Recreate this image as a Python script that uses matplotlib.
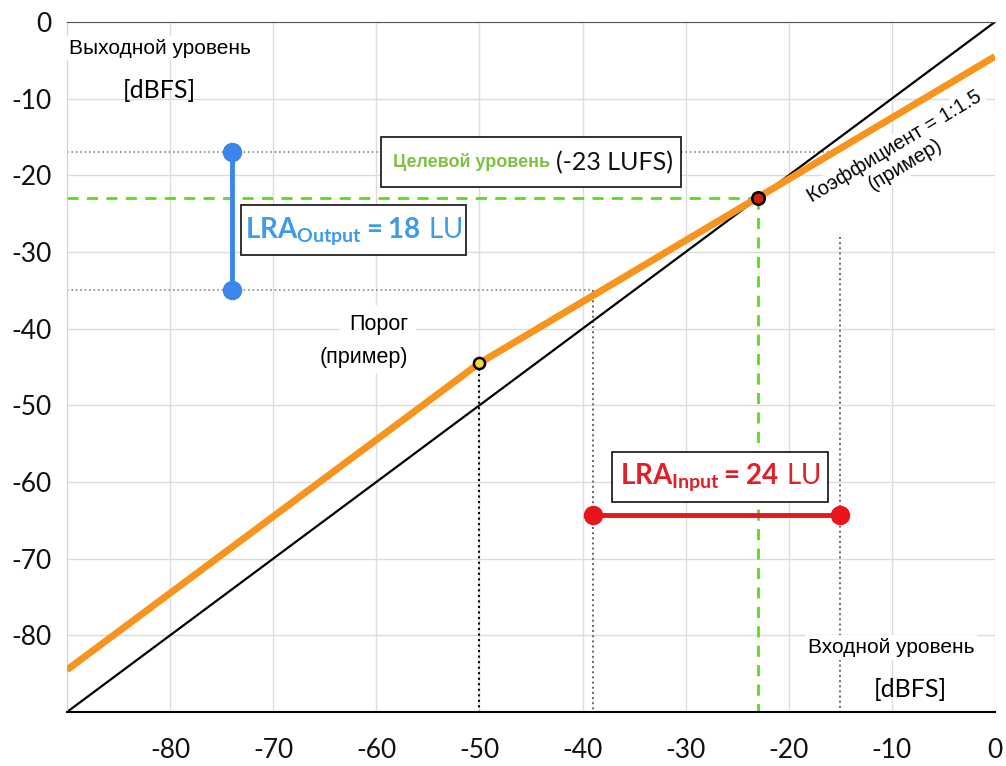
import matplotlib.pyplot as plt
import numpy as np
from matplotlib.patches import Rectangle

plt.rcParams['mathtext.fontset'] = 'custom'
plt.rcParams['mathtext.rm'] = 'Lato'
plt.rcParams['mathtext.bf'] = 'Lato:bold'

# levels in dBFS
x_in = [-90, -50, 0]
y_out = [-84.5, -44.5, -4.5]
threshold = (-50, -44.5)
target = (-23, -23)
lra_in = [-39, -15]
lra_in_y = -64.3
lra_out = [-17, -35]
lra_out_x = -74

ticks = np.arange(-80, 1, 10)
tick_labels = ['-80', '-70', '-60', '-50', '-40', '-30', '-20', '-10', '0']

fig = plt.figure(figsize=(10.06, 7.66), dpi=100)
ax = fig.add_axes([0.0666, 0.0705, 0.9224, 0.9008])
ax.set_xlim(-90, 0)
ax.set_ylim(-90, 0)

ax.set_xticks(ticks)
ax.set_xticklabels(tick_labels)
ax.set_yticks(ticks)
ax.set_yticklabels(tick_labels)
ax.tick_params(length=0, labelsize=19, labelcolor='#111111')
ax.tick_params(axis='x', pad=19)
ax.tick_params(axis='y', pad=11)
for lab in ax.get_xticklabels() + ax.get_yticklabels():
    lab.set_family('Lato')
ax.grid(True, color='#dcdcdc', lw=1)
ax.set_axisbelow(True)
ax.spines['right'].set_visible(False)
ax.spines['left'].set_color('#cfcfcf')
ax.spines['top'].set_color('#555555')
ax.spines['bottom'].set_color('black')
ax.spines['bottom'].set_linewidth(1.5)

sans = 'Liberation Sans'

# helper lines
ax.plot([-90, -15], [lra_out[0], lra_out[0]], ls=':', color='#888888', lw=1.2)
ax.plot([-90, lra_in[0]], [lra_out[1], lra_out[1]], ls=':', color='#888888', lw=1.2)
ax.plot([lra_in[0], lra_in[0]], [lra_out[1], -90], ls=':', color='#666666', lw=1.4)
ax.plot([lra_in[1], lra_in[1]], [-28, -90], ls=':', color='#666666', lw=1.4)
ax.plot([threshold[0], threshold[0]], [threshold[1], -90], ls=':', color='black', lw=1.5)
ax.plot([-90, target[0]], [target[1], target[1]], ls=(0, (4, 3)), color='#55dd22', lw=2)
ax.plot([target[0], target[0]], [target[1], -90], ls=(0, (4, 3)), color='#55dd22', lw=2)

# 1:1 reference and compressor curve
ax.plot([-90, 0], [-90, 0], color='black', lw=1.6)
ax.plot(x_in, y_out, color='#f7941d', lw=5, solid_capstyle='butt', zorder=4)
ax.plot(*threshold, 'o', ms=8, mfc='#f4d83a', mec='black', mew=1.8, zorder=5)
ax.plot(*target, 'o', ms=9, mfc='#d0210f', mec='black', mew=1.8, zorder=5)

# LRA bars
ax.plot([lra_out_x, lra_out_x], lra_out, color='#3a86ea', lw=3.5, marker='o', ms=13, zorder=4)
ax.plot(lra_in, [lra_in_y, lra_in_y], color='#e8161c', lw=3.5, marker='o', ms=13, zorder=4)

# annotation boxes
ax.add_patch(Rectangle((-59.5, -21.5), 29.1, 6.5, fc='white', ec='#222222', lw=1.3, zorder=6))
ax.text(-58.4, -18.3, 'Целевой уровень', color='#7dc242', fontsize=13, fontweight='bold',
        family=sans, ha='left', va='center', zorder=7)
ax.text(-31.2, -18.3, '(-23 LUFS)', color='#111111', fontsize=18, family='Lato',
        ha='right', va='center', zorder=7)

ax.add_patch(Rectangle((-73.1, -30.4), 21.8, 6.5, fc='white', ec='#222222', lw=1.3, zorder=6))
ax.text(-62.2, -27.3, r'$\mathbf{LRA_{Output} = 18}\ \mathrm{LU}$', color='#3d9be9',
        fontsize=20, ha='center', va='center', zorder=7)

ax.add_patch(Rectangle((-37.1, -62.6), 20.9, 6.5, fc='white', ec='#222222', lw=1.3, zorder=6))
ax.text(-26.6, -59.4, r'$\mathbf{LRA_{Input} = 24}\ \mathrm{LU}$', color='#e21f26',
        fontsize=20, ha='center', va='center', zorder=7)

# axis captions
white = dict(fc='white', ec='none', pad=2)
ax.text(-89.8, -3.4, 'Выходной уровень', fontsize=15, family=sans, ha='left', va='center',
        bbox=white, zorder=7)
ax.text(-81, -8.9, '[dBFS]', fontsize=18, family='Lato', ha='center', va='center', zorder=7)
ax.text(-10.1, -81.6, 'Входной уровень', fontsize=15, family=sans, ha='center', va='center',
        bbox=white, zorder=7)
ax.text(-8.2, -87.1, '[dBFS]', fontsize=18, family='Lato', ha='center', va='center', zorder=7)

ax.text(-59.8, -39.4, 'Порог', fontsize=15.5, family=sans, ha='center', va='center',
        bbox=dict(fc='white', ec='none', pad=6), zorder=7)
ax.text(-61.2, -43.7, '(пример)', fontsize=15.5, family=sans, ha='center', va='center',
        bbox=dict(fc='white', ec='none', pad=4), zorder=7)

ax.text(-9.2, -17.4, 'Коэффициент = 1:1.5\n(пример)', fontsize=14.5, family=sans,
        ha='center', va='center', rotation=31, rotation_mode='anchor', linespacing=1.1,
        multialignment='center', bbox=dict(fc='white', ec='none', pad=2), zorder=3)

fig.savefig('out.png', dpi=100)
